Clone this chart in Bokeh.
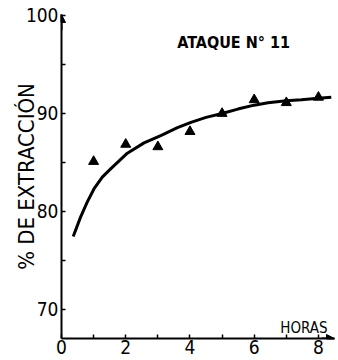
from bokeh.plotting import figure
from bokeh.models import FixedTicker, Label, Arrow, NormalHead, Range1d
from bokeh.embed import file_html
from bokeh.resources import INLINE

# data
horas = [1, 2, 3, 4, 5, 6, 7, 8]
extraccion = [85.1, 86.85, 86.6, 88.15, 90.0, 91.4, 91.1, 91.65]

curva_x = [0.365, 0.59, 0.80, 1.01, 1.27, 1.53, 2.05, 2.57, 3.09, 3.61, 4.03,
           4.5, 5.0, 5.49, 6.0, 6.43, 7.0, 7.47, 8.0, 8.4]
curva_y = [77.45, 79.4, 80.95, 82.3, 83.5, 84.35, 85.95, 87.0, 87.75, 88.55, 89.1,
           89.6, 90.0, 90.45, 90.85, 91.1, 91.3, 91.4, 91.55, 91.65]

x_ticks = [0, 2, 4, 6, 8]
x_minor = [1, 3, 5, 7]
y_ticks = [70, 80, 90, 100]
y_minor = [75, 85, 95]

FONT = "DejaVu Sans Condensed"

p = figure(width=338, height=360, output_backend="svg", toolbar_location=None,
           x_range=Range1d(0, 8.5), y_range=Range1d(67.04, 100.1),
           min_border_left=61, min_border_top=14, min_border_bottom=22, min_border_right=4)
p.outline_line_color = None
p.grid.grid_line_color = None

for ax in (p.xaxis[0], p.yaxis[0]):
    ax.axis_line_width = 2
    ax.axis_line_color = "black"
    ax.major_tick_in = 4
    ax.major_tick_out = 0
    ax.minor_tick_in = 4
    ax.minor_tick_out = 0
    ax.major_tick_line_width = 1.5
    ax.minor_tick_line_width = 1.5
    ax.major_label_text_font = FONT
    ax.major_label_text_font_size = "19px"
    ax.major_label_text_color = "black"

p.yaxis[0].major_label_standoff = 3
p.xaxis[0].major_label_standoff = 1
p.xaxis[0].ticker = FixedTicker(ticks=x_ticks, minor_ticks=x_minor)
p.yaxis[0].ticker = FixedTicker(ticks=y_ticks, minor_ticks=y_minor)

p.yaxis[0].axis_label = "% DE EXTRACCIÓN"
p.yaxis[0].axis_label_text_font = FONT
p.yaxis[0].axis_label_text_font_size = "22px"
p.yaxis[0].axis_label_text_font_style = "normal"
p.yaxis[0].axis_label_text_color = "black"
p.yaxis[0].axis_label_standoff = -16

p.line(curva_x, curva_y, line_color="black", line_width=3)
p.scatter(horas, extraccion, marker="triangle", size=10, fill_color="black", line_color="black")

# arrow heads on axes
p.add_layout(Arrow(end=NormalHead(size=8, fill_color="black", line_color="black"),
                   x_start=0, y_start=98.5, x_end=0, y_end=100.1, line_width=2))
p.add_layout(Arrow(end=NormalHead(size=8, fill_color="black", line_color="black"),
                   x_start=8.1, y_start=67.04, x_end=8.5, y_end=67.04, line_width=2))

p.add_layout(Label(x=7.55, y=68.16, text="HORAS", text_align="center", text_baseline="middle",
                   text_font=FONT, text_font_size="15px", text_color="black"))
p.add_layout(Label(x=5.36, y=97.28, text="ATAQUE N° 11", text_align="center", text_baseline="middle",
                   text_font=FONT, text_font_size="16px", text_font_style="bold", text_color="black"))

open("out.html", "w").write(file_html(p, INLINE))
